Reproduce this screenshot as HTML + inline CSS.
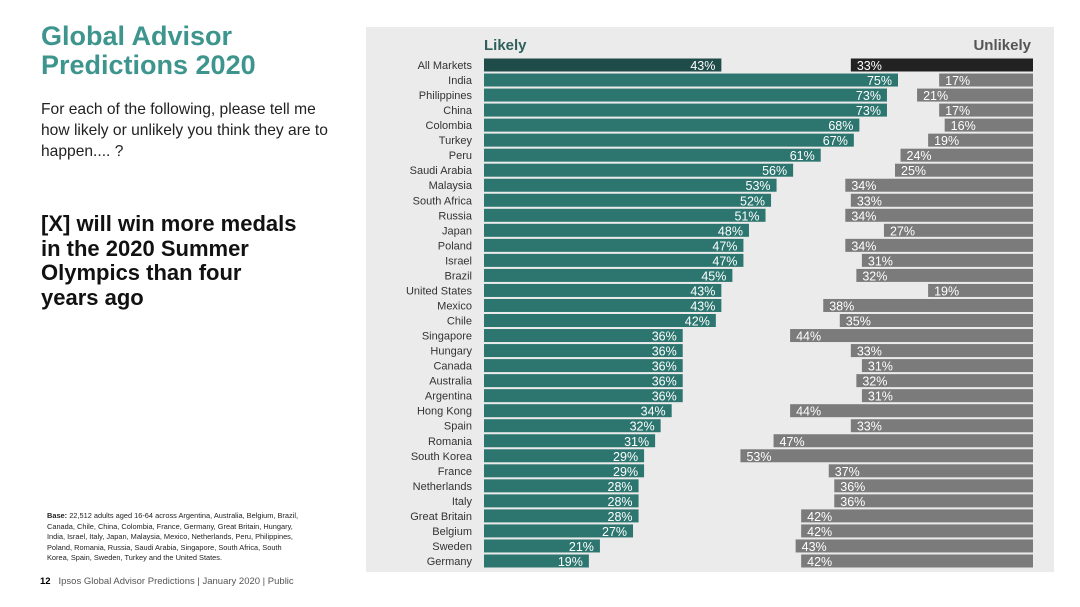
<!DOCTYPE html>
<html><head><meta charset="utf-8"><style>
body{margin:0;width:1080px;height:607px;background:#fff;font-family:"Liberation Sans",sans-serif;position:relative;overflow:hidden}
.a{position:absolute}
</style></head><body>
<div class="a" style="left:41px;top:22px;font-size:27px;font-weight:bold;color:#3d958d;line-height:29px">Global Advisor<br>Predictions 2020</div>
<div class="a" style="left:41px;top:99px;font-size:15.6px;color:#222;line-height:21px">For each of the following, please tell me<br>how likely or unlikely you think they are to<br>happen.... ?</div>
<div class="a" style="left:41px;top:212px;font-size:22px;font-weight:bold;color:#111;line-height:24.5px">[X] will win more medals<br>in the 2020 Summer<br>Olympics than four<br>years ago</div>
<div class="a" style="left:47px;top:511px;width:258px;font-size:7.4px;color:#222;line-height:10.5px"><b>Base:</b> 22,512 adults aged 16-64 across Argentina, Australia, Belgium, Brazil, Canada, Chile, China, Colombia, France, Germany, Great Britain, Hungary, India, Israel, Italy, Japan, Malaysia, Mexico, Netherlands, Peru, Philippines, Poland, Romania, Russia, Saudi Arabia, Singapore, South Africa, South Korea, Spain, Sweden, Turkey and the United States.</div>
<div class="a" style="left:40px;top:576px;font-size:9.5px;color:#555"><b style="color:#000">12</b> &nbsp;&nbsp;Ipsos Global Advisor Predictions | January 2020 | Public</div>
<svg class="a" style="left:0;top:0" width="1080" height="607">
<rect x="366" y="27" width="688" height="545" fill="#ebebeb"/>
<text x="484" y="50" font-size="15" font-weight="bold" fill="#2f5f5b">Likely</text>
<text x="1031" y="50" font-size="15" font-weight="bold" fill="#555" text-anchor="end">Unlikely</text>
<g id="bars"></g>
</svg>
<script>
const categories=["All Markets","India","Philippines","China","Colombia","Turkey","Peru","Saudi Arabia","Malaysia","South Africa","Russia","Japan","Poland","Israel","Brazil","United States","Mexico","Chile","Singapore","Hungary","Canada","Australia","Argentina","Hong Kong","Spain","Romania","South Korea","France","Netherlands","Italy","Great Britain","Belgium","Sweden","Germany"];
const likely=[43,75,73,73,68,67,61,56,53,52,51,48,47,47,45,43,43,42,36,36,36,36,36,34,32,31,29,29,28,28,28,27,21,19];
const unlikely=[33,17,21,17,16,19,24,25,34,33,34,27,34,31,32,19,38,35,44,33,31,32,31,44,33,47,53,37,36,36,42,42,43,42];
const NS="http://www.w3.org/2000/svg";
const g=document.getElementById('bars');
const x0=484,xr=1033,k=5.52,y0=65,step=15.03,bh=13;
function xs(v){return v*k;}
function yc(i){return y0+i*step;}
function mk(t,a){const e=document.createElementNS(NS,t);for(const p in a)e.setAttribute(p,a[p]);g.appendChild(e);return e;}
categories.forEach((c,i)=>{
  const y=yc(i);
  const l=mk('text',{x:472,y:y+4,'font-size':11,fill:'#333','text-anchor':'end'});l.textContent=c;
  
  
  const w=xs(likely[i]);
  const b=mk('rect',{x:x0,y:y-bh/2,width:w,height:bh,fill:i==0?'#1f4b48':'#2d7670'});
  
  
  const t=mk('text',{x:x0+w-6,y:y+5,'font-size':12.5,fill:'#fff','text-anchor':'end'});t.textContent=likely[i]+'%';
  
  
  const uw=xs(unlikely[i]);
  const u=mk('rect',{x:xr-uw,y:y-bh/2,width:uw,height:bh,fill:i==0?'#222':'#7b7b7b'});
  
  
  const ut=mk('text',{x:xr-uw+6,y:y+5,'font-size':12.5,fill:'#fff'});ut.textContent=unlikely[i]+'%';
  
  
});
</script>
</body></html>
